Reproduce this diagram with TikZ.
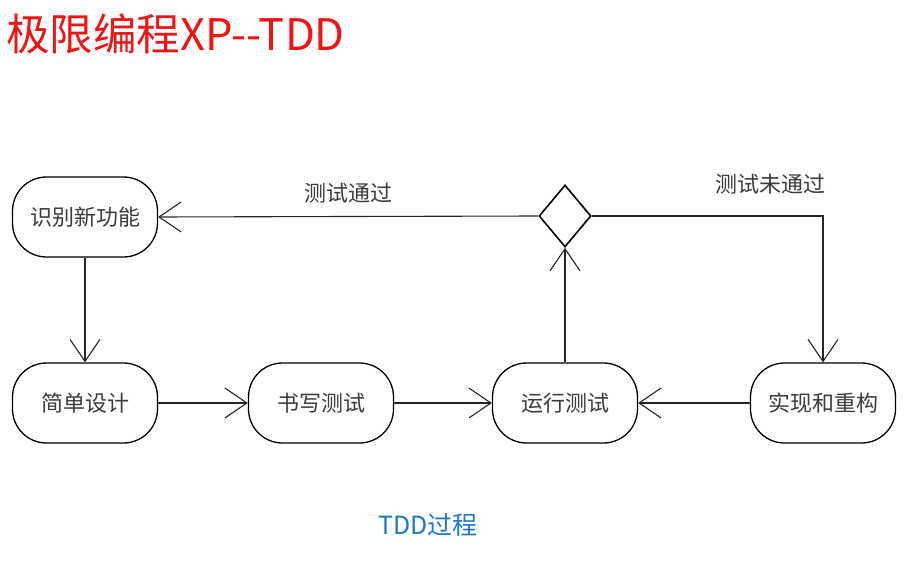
\documentclass[tikz,border=0pt]{standalone}
\usepackage{fontspec}
\setmainfont{Noto Sans CJK SC}
\newfontfamily\cjk{Noto Sans CJK SC}
\usetikzlibrary{arrows.meta,shapes.geometric}
\definecolor{titlered}{RGB}{240,20,20}
\definecolor{capblue}{RGB}{30,120,200}
\definecolor{txtgray}{RGB}{60,60,60}
\tikzset{
  act/.style={draw=black,line width=1.3pt,rounded corners=34pt,minimum width=145pt,minimum height=80pt,inner sep=0pt,font=\cjk\fontsize{22pt}{26pt}\selectfont,text=txtgray},
  dec/.style={draw=black,line width=1.6pt,diamond,shape aspect=0.84,minimum width=52pt,minimum height=62pt,inner sep=0pt},
  flow/.style={draw=black!85,line width=1.1pt,-{Straight Barb[length=22pt,width=30pt,line width=1.1pt]}},
  lbl/.style={font=\cjk\fontsize{22pt}{26pt}\selectfont,text=txtgray}
}
\begin{document}
\begin{tikzpicture}[x=1pt,y=-1pt]
\useasboundingbox (0,0) rectangle (909,561);
\node[anchor=west,text=titlered,font=\cjk\fontsize{43.5pt}{50pt}\selectfont,inner sep=0pt] (title) at (6,34) {极限编程XP--TDD};
\node[act] (idf) at (85,217) {识别新功能};
\node[act] (des) at (85,403) {简单设计};
\node[act] (wrt) at (321,403) {书写测试};
\node[act] (run) at (565,403) {运行测试};
\node[act] (imp) at (823,403) {实现和重构};
\node[dec] (dc) at (565,216) {};
\coordinate (corner) at (823,216);
\draw[flow] (dc.west) -- (idf.east);
\draw[flow] (dc.east) -- (corner) -- (imp.north);
\draw[flow] (idf.south) -- (des.north);
\draw[flow] (des.east) -- (wrt.west);
\draw[flow] (wrt.east) -- (run.west);
\draw[flow] (imp.west) -- (run.east);
\draw[flow] (run.north) -- (dc.south);
\node[lbl] (pass) at (348,193) {测试通过};
\node[lbl] (fail) at (770,184) {测试未通过};
\node[text=capblue,font=\cjk\fontsize{25pt}{29pt}\selectfont] (cap) at (428,525) {TDD过程};
\end{tikzpicture}
\end{document}
